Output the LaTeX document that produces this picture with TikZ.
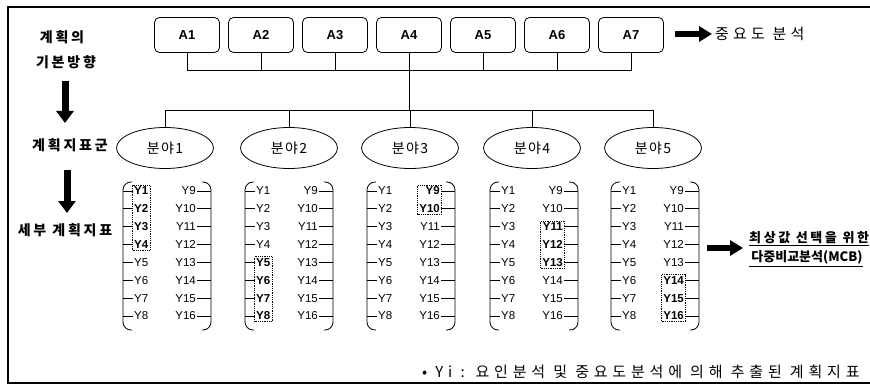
\documentclass[tikz,border=0pt]{standalone}
\usepackage{fontspec}
\setmainfont{Liberation Sans}
\newfontfamily\kr{Noto Sans CJK KR}
\newfontfamily\krs{Noto Sans CJK KR}[LetterSpace=20]
\newfontfamily\krm{Noto Sans CJK KR}[LetterSpace=10]
\newfontfamily\krw{Noto Sans CJK KR}[LetterSpace=28]
\newfontfamily\krn{Noto Sans CJK KR}[LetterSpace=32]
\usetikzlibrary{shapes.geometric,arrows.meta,fit}
\begin{document}
\begin{tikzpicture}[x=1pt,y=-1pt,
  abox/.style={draw, rounded corners=5pt, minimum width=65pt, minimum height=35pt, line width=0.8pt, font=\bfseries\fontsize{13}{15}\selectfont},
  field/.style={draw, ellipse, minimum width=97pt, minimum height=41pt, line width=0.8pt, font=\krm\fontsize{14}{16}\selectfont},
  ylab/.style={inner sep=1pt, font=\fontsize{11.5}{13}\selectfont},
  hl/.style={draw, densely dotted, line width=0.8pt, inner sep=0.5pt},
  lab/.style={font=\krs\bfseries\fontsize{14}{16}\selectfont},
  blk/.style={line width=7pt, -{Triangle[length=12pt,width=17pt]}},
  blkh/.style={line width=6pt, -{Triangle[length=13pt,width=15pt]}},
  conn/.style={line width=0.8pt}
]
\useasboundingbox (0,0) rectangle (870,385);
% frame
\draw[line width=1.2pt] (870,7) -- (8,7) -- (8,383) -- (870,383);

% left labels
\node[lab] (l1a) at (62,37) {계획의};
\node[lab] (l1b) at (66,62) {기본방향};
\node[lab] (l2) at (70,145) {계획지표군};
\node[lab] (l3) at (65,230) {세부 계획지표};
\coordinate (v1s) at (65,81);  \coordinate (v1e) at (65,123);
\coordinate (v2s) at (67,170); \coordinate (v2e) at (67,213);
\draw[blk] (v1s) -- (v1e);
\draw[blk] (v2s) -- (v2e);

% A boxes
\foreach \i/\x in {1/187,2/261,3/335,4/409,5/483,6/557,7/631}
  \node[abox] (A\i) at (\x,35) {A\i};
\coordinate (barL) at (187,70);
\coordinate (barR) at (631,70);
\draw[conn] (A1.south) -- (barL) -- (barR) -- (A7.south);
\foreach \i in {2,3,5,6}
  \draw[conn] (A\i.south) -- (A\i.south |- barL);

% importance analysis arrow
\coordinate (h1s) at (675,34); \coordinate (h1e) at (712,34);
\draw[blkh] (h1s) -- (h1e);
\node[anchor=west, inner sep=1pt, font=\krw\fontsize{15}{17}\selectfont] (imp) at (714,34) {중요도 분석};

% fields
\foreach \i/\x in {1/165,2/289,3/410,4/532,5/653}
  \node[field] (F\i) at (\x,148) {분야\i};
\coordinate (bar2L) at (165,110);
\coordinate (bar2R) at (653,110);
\draw[conn] (F1.north) -- (bar2L) -- (bar2R) -- (F5.north);
\foreach \i in {2,3,4}
  \draw[conn] (F\i.north) -- (F\i.north |- bar2L);
\draw[conn] (A4.south) -- (A4.south |- bar2L);

% indicator groups
\foreach \g/\cx in {1/167,2/289,3/411,4/534,5/655} {
  \draw[conn, rounded corners=8pt] (\cx-35,182) -- (\cx-44,182) -- (\cx-44,330) -- (\cx-35,330);
  \draw[conn, rounded corners=8pt] (\cx+35,182) -- (\cx+44,182) -- (\cx+44,330) -- (\cx+35,330);
  \foreach \k in {1,...,8} {
    \pgfmathsetmacro\yy{191+(\k-1)*17.85}
    \pgfmathtruncatemacro\rr{\k+8}
    \pgfmathtruncatemacro\lb{((\g==1)&&(\k<5))||((\g==2)&&(\k>4))}
    \pgfmathtruncatemacro\rb{((\g==3)&&(\k<3))||((\g==4)&&(\k>2)&&(\k<6))||((\g==5)&&(\k>5))}
    \node[ylab, anchor=west] (g\g l\k) at (\cx-34,\yy) {\ifnum\lb=1\bfseries\fi Y\k};
    \node[ylab, anchor=east] (g\g r\k) at (\cx+30,\yy) {\ifnum\rb=1\bfseries\fi Y\rr};
    \draw[conn] (\cx-44,\yy) -- (g\g l\k.west);
    \draw[conn] (g\g r\k.east) -- (\cx+44,\yy);
  }
}
\node[hl, fit=(g1l1)(g1l4)] (h1) {};
\node[hl, fit=(g2l5)(g2l8)] (h2) {};
\node[hl, fit=(g3r1)(g3r2)] (h3) {};
\node[hl, fit=(g4r3)(g4r5)] (h4) {};
\node[hl, fit=(g5r6)(g5r8)] (h5) {};

% MCB arrow
\coordinate (h2s) at (707,248); \coordinate (h2e) at (743,248);
\draw[blkh] (h2s) -- (h2e);
\node[anchor=west, align=left, inner sep=1pt, font=\bfseries\fontsize{13}{19}\selectfont] (mcb) at (748,249)
  {\underline{\krs 최상값 선택을 위한}\\\underline{\kr\,다중비교분석(MCB)}};

% note
\node[anchor=west, inner sep=1pt, font=\krn\fontsize{15}{17}\selectfont] (note) at (421,372)
  {• Yi : 요인분석 및 중요도분석에 의해 추출된 계획지표};
\end{tikzpicture}
\end{document}
